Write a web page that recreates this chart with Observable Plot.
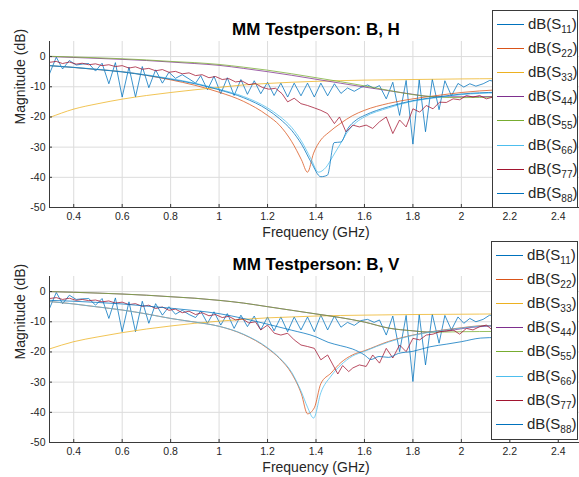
<!DOCTYPE html>
<html>
<head>
<meta charset="utf-8">
<script src="https://cdn.jsdelivr.net/npm/d3@7"></script>
<script src="https://cdn.jsdelivr.net/npm/@observablehq/plot@0.6"></script>
<style>
  body { margin: 0; background: #fff; font-family: "Liberation Sans", Arial, Helvetica, sans-serif; }
  #fig { position: relative; width: 579px; height: 477px; overflow: hidden; background: #fff; }
  .panel { position: absolute; left: 0; max-width: none !important; }
  .legend { position: absolute; background: #fff; border: 1px solid #3a3a3a; box-sizing: border-box; }
  .swatch { position: absolute; left: 4px; width: 27px; height: 1px; }
  .lab { position: absolute; left: 35px; font-size: 15px; line-height: 15px; white-space: nowrap; color: #262626; }
  .lab span { font-size: 10px; position: relative; top: 4px; }
</style>
</head>
<body>
<div id="fig"></div>
<script>
// Port labels and trace colours (S11 … S88)
const ports = ["11", "22", "33", "44", "55", "66", "77", "88"];
const traceColors = ["#0072BD", "#D95319", "#EDB120", "#7E2F8E", "#77AC30", "#4DBEEE", "#A2142F", "#0072BD"];

const xTicks = [0.4, 0.6, 0.8, 1.0, 1.2, 1.4, 1.6, 1.8, 2.0, 2.2, 2.4];
const yTicks = [0, -10, -20, -30, -40, -50];

// ---- Panel 1: B, H  — [frequency GHz, magnitude dB]
const hS11 = [[0.300,-5.7],[0.328,-0.2],[0.354,-4.1],[0.382,-1.3],[0.410,-2.8],[0.435,-2.5],[0.462,-2.3],[0.490,-4.8],[0.517,-2.2],[0.545,-9.0],[0.572,-2.0],[0.600,-13.4],[0.628,-3.5],[0.655,-13.4],[0.683,-3.3],[0.710,-10.3],[0.738,-4.4],[0.766,-8.8],[0.793,-5.2],[0.820,-7.2],[0.848,-6.0],[0.876,-7.4],[0.903,-8.8],[0.924,-6.3],[0.952,-11.0],[0.979,-6.5],[1.007,-12.3],[1.034,-7.0],[1.062,-12.9],[1.090,-7.6],[1.117,-12.5],[1.145,-8.0],[1.172,-12.3],[1.200,-8.5],[1.227,-12.9],[1.255,-8.8],[1.283,-13.4],[1.310,-8.8],[1.338,-13.0],[1.365,-8.8],[1.393,-13.4],[1.420,-8.8],[1.448,-13.0],[1.476,-9.0],[1.503,-12.2],[1.530,-10.4],[1.558,-11.5],[1.586,-10.2],[1.613,-9.4],[1.640,-10.5],[1.662,-9.6],[1.690,-14.0],[1.717,-8.5],[1.745,-19.5],[1.772,-7.9],[1.800,-29.0],[1.826,-7.7],[1.852,-24.9],[1.880,-7.5],[1.908,-17.6],[1.932,-8.0],[1.959,-13.0],[1.986,-8.9],[2.010,-10.1],[2.035,-9.0],[2.060,-9.8],[2.090,-9.0],[2.117,-7.9],[2.145,-8.4]];
const hS22 = [[0.30,-3.0],[0.40,-3.6],[0.50,-4.3],[0.60,-5.0],[0.70,-6.2],[0.80,-7.7],[0.90,-9.5],[1.00,-11.8],[1.10,-14.8],[1.20,-19.5],[1.25,-22.8],[1.30,-28.2],[1.34,-34.2],[1.365,-38.3],[1.39,-32.0],[1.42,-27.6],[1.45,-25.3],[1.50,-22.2],[1.55,-19.6],[1.60,-17.8],[1.70,-15.5],[1.80,-14.0],[1.90,-12.9],[2.00,-11.9],[2.15,-11.0]];
const hS33 = [[0.30,-20.2],[0.40,-17.4],[0.50,-15.6],[0.60,-14.1],[0.70,-12.9],[0.80,-11.9],[0.90,-11.0],[1.00,-10.2],[1.10,-9.4],[1.20,-8.9],[1.30,-8.5],[1.40,-8.2],[1.60,-7.8],[1.80,-7.6],[2.00,-7.4],[2.15,-7.3]];
const hS44 = [[0.30,0.0],[0.50,-0.6],[0.70,-1.3],[0.80,-1.8],[0.90,-2.3],[1.00,-2.9],[1.10,-3.9],[1.20,-5.0],[1.30,-6.2],[1.40,-7.5],[1.50,-8.8],[1.60,-10.1],[1.70,-11.3],[1.80,-12.5],[1.85,-13.1],[1.90,-13.3],[2.00,-13.3],[2.15,-13.2]];
const hS55 = [[0.30,0.1],[0.50,-0.4],[0.70,-1.1],[0.80,-1.6],[0.90,-2.0],[1.00,-2.6],[1.10,-3.5],[1.20,-4.5],[1.30,-5.7],[1.40,-7.0],[1.50,-8.3],[1.60,-9.7],[1.70,-11.2],[1.80,-12.6],[1.90,-13.4],[2.00,-13.6],[2.15,-13.4]];
const hS66 = [[0.30,-3.0],[0.50,-4.2],[0.60,-5.0],[0.80,-7.3],[0.90,-8.8],[1.00,-10.8],[1.10,-13.2],[1.20,-17.0],[1.25,-19.8],[1.30,-23.5],[1.34,-28.0],[1.38,-34.0],[1.41,-38.3],[1.44,-36.8],[1.47,-33.0],[1.50,-29.0],[1.53,-25.0],[1.566,-21.8],[1.60,-20.0],[1.70,-17.0],[1.80,-14.8],[1.90,-13.6],[2.00,-12.6],[2.15,-12.0]];
const hS77 = [[0.300,-1.9],[0.328,-1.6],[0.354,-2.3],[0.382,-1.8],[0.410,-2.5],[0.435,-2.2],[0.462,-2.7],[0.490,-2.4],[0.517,-3.0],[0.545,-2.7],[0.572,-3.3],[0.600,-3.0],[0.628,-3.8],[0.655,-3.4],[0.683,-4.2],[0.710,-3.9],[0.738,-4.7],[0.766,-4.3],[0.793,-5.2],[0.820,-4.9],[0.848,-5.7],[0.876,-5.4],[0.903,-6.3],[0.930,-6.0],[0.958,-7.0],[0.985,-6.6],[1.013,-7.6],[1.040,-7.3],[1.068,-8.4],[1.095,-8.1],[1.123,-9.3],[1.150,-8.9],[1.178,-10.2],[1.205,-10.8],[1.233,-10.5],[1.260,-12.3],[1.283,-15.0],[1.310,-13.8],[1.338,-15.6],[1.365,-16.2],[1.393,-17.0],[1.420,-17.8],[1.448,-18.9],[1.476,-22.2],[1.497,-20.0],[1.524,-25.0],[1.552,-22.7],[1.579,-23.3],[1.607,-22.7],[1.634,-23.8],[1.662,-21.6],[1.690,-20.0],[1.717,-25.5],[1.745,-21.0],[1.772,-23.3],[1.800,-17.3],[1.828,-18.4],[1.855,-16.2],[1.883,-17.3],[1.910,-15.1],[1.938,-15.2],[1.966,-14.0],[1.993,-14.3],[2.021,-12.9],[2.048,-13.4],[2.076,-12.9],[2.103,-14.0],[2.131,-13.4]];
const hS88 = [[0.30,-3.0],[0.40,-3.6],[0.50,-4.3],[0.60,-5.1],[0.70,-6.2],[0.80,-7.5],[0.90,-9.0],[1.00,-11.0],[1.10,-13.6],[1.20,-17.6],[1.25,-20.6],[1.30,-24.5],[1.34,-29.0],[1.38,-35.0],[1.42,-39.8],[1.447,-39.3],[1.475,-28.5],[1.503,-28.3],[1.53,-24.0],[1.566,-21.0],[1.60,-19.5],[1.70,-16.6],[1.80,-14.6],[1.90,-13.4],[2.00,-12.4],[2.15,-11.8]];

// ---- Panel 2: B, V
const vS11 = [[0.300,-5.6],[0.328,-0.3],[0.354,-4.0],[0.382,-1.2],[0.410,-2.6],[0.435,-2.4],[0.462,-2.3],[0.490,-4.5],[0.517,-2.3],[0.545,-8.9],[0.572,-2.1],[0.600,-13.3],[0.628,-3.4],[0.655,-13.3],[0.683,-3.2],[0.710,-10.5],[0.738,-4.0],[0.766,-7.8],[0.793,-5.0],[0.820,-7.5],[0.848,-6.2],[0.876,-7.6],[0.903,-8.6],[0.924,-6.4],[0.952,-10.5],[0.979,-6.7],[1.007,-11.1],[1.034,-7.3],[1.062,-12.2],[1.090,-7.8],[1.117,-11.6],[1.145,-8.1],[1.172,-12.7],[1.200,-8.4],[1.227,-13.0],[1.255,-8.4],[1.283,-13.3],[1.310,-8.4],[1.338,-12.7],[1.365,-8.4],[1.393,-13.3],[1.420,-7.8],[1.448,-12.7],[1.476,-8.1],[1.503,-11.8],[1.530,-10.2],[1.558,-11.2],[1.586,-9.6],[1.613,-9.2],[1.640,-10.2],[1.662,-9.4],[1.690,-14.4],[1.717,-8.1],[1.745,-19.9],[1.772,-7.9],[1.800,-29.8],[1.826,-7.6],[1.852,-24.3],[1.880,-7.5],[1.908,-17.1],[1.932,-7.9],[1.959,-12.7],[1.986,-8.4],[2.010,-10.5],[2.035,-8.9],[2.060,-10.0],[2.090,-9.2],[2.117,-7.8],[2.145,-8.2]];
const vS22 = [[0.30,-3.3],[0.40,-4.1],[0.50,-5.1],[0.60,-6.1],[0.70,-7.4],[0.80,-8.9],[0.90,-10.1],[1.00,-11.5],[1.10,-14.2],[1.20,-18.8],[1.25,-22.2],[1.30,-27.2],[1.34,-34.0],[1.365,-40.5],[1.393,-38.5],[1.42,-30.5],[1.462,-27.0],[1.503,-23.5],[1.55,-21.0],[1.60,-19.6],[1.70,-16.5],[1.80,-14.4],[1.90,-13.0],[2.00,-12.0],[2.08,-11.3],[2.15,-11.2]];
const vS33 = [[0.30,-19.0],[0.40,-16.6],[0.50,-15.0],[0.60,-13.6],[0.70,-12.4],[0.80,-11.4],[0.90,-10.5],[1.00,-9.8],[1.10,-9.2],[1.20,-8.7],[1.30,-8.4],[1.40,-8.1],[1.60,-7.8],[1.80,-7.6],[2.00,-7.5],[2.15,-7.4]];
const vS44 = [[0.30,0.0],[0.50,-0.5],[0.70,-1.2],[0.80,-1.7],[0.90,-2.2],[1.00,-2.9],[1.10,-3.8],[1.20,-5.0],[1.30,-6.2],[1.40,-7.4],[1.50,-8.6],[1.60,-10.1],[1.70,-12.1],[1.80,-13.0],[1.86,-13.4],[1.93,-13.2],[2.00,-12.3],[2.08,-11.6],[2.15,-11.4]];
const vS55 = [[0.30,0.0],[0.50,-0.5],[0.70,-1.2],[0.80,-1.7],[0.90,-2.2],[1.00,-2.9],[1.10,-3.8],[1.20,-5.0],[1.30,-6.2],[1.40,-7.4],[1.50,-8.6],[1.60,-10.1],[1.70,-12.1],[1.80,-13.0],[1.86,-13.4],[1.93,-13.4],[2.00,-13.3],[2.15,-13.2]];
const vS66 = [[0.30,-3.3],[0.40,-4.1],[0.50,-5.1],[0.60,-6.1],[0.70,-7.4],[0.80,-8.9],[0.90,-10.1],[1.00,-11.5],[1.10,-14.1],[1.20,-18.6],[1.25,-22.0],[1.30,-26.8],[1.34,-33.3],[1.365,-38.3],[1.39,-41.9],[1.42,-33.5],[1.462,-28.0],[1.503,-24.3],[1.55,-21.4],[1.60,-19.8],[1.70,-16.7],[1.80,-14.5],[1.90,-13.1],[2.00,-12.1],[2.08,-11.4],[2.15,-11.3]];
const vS77 = [[0.300,-2.3],[0.328,-2.0],[0.354,-2.6],[0.382,-2.2],[0.410,-2.9],[0.435,-2.6],[0.462,-3.0],[0.490,-2.8],[0.517,-3.4],[0.545,-3.1],[0.572,-3.8],[0.600,-3.5],[0.628,-4.3],[0.655,-4.0],[0.683,-4.9],[0.710,-4.5],[0.738,-5.6],[0.766,-5.1],[0.793,-6.2],[0.820,-5.8],[0.848,-7.0],[0.876,-6.5],[0.903,-7.6],[0.930,-7.0],[0.958,-8.0],[0.985,-7.6],[1.013,-8.6],[1.040,-8.2],[1.068,-9.4],[1.095,-9.0],[1.123,-10.4],[1.150,-10.0],[1.172,-12.7],[1.200,-11.1],[1.228,-13.8],[1.255,-14.4],[1.283,-13.8],[1.310,-16.0],[1.338,-17.7],[1.365,-18.2],[1.393,-18.8],[1.420,-22.6],[1.448,-21.0],[1.490,-27.3],[1.510,-24.5],[1.535,-26.5],[1.552,-25.3],[1.579,-24.3],[1.607,-24.8],[1.634,-21.0],[1.662,-23.7],[1.690,-18.8],[1.717,-22.0],[1.745,-17.7],[1.772,-19.9],[1.800,-15.5],[1.828,-16.0],[1.855,-14.4],[1.883,-14.1],[1.910,-13.3],[1.938,-13.0],[1.966,-12.7],[1.993,-14.1],[2.021,-12.2],[2.048,-12.7],[2.076,-11.6],[2.103,-11.1],[2.131,-12.9]];
const vS88 = [[0.30,-2.9],[0.40,-3.2],[0.50,-3.6],[0.60,-4.1],[0.70,-4.8],[0.80,-5.5],[0.90,-6.3],[1.00,-7.3],[1.10,-8.9],[1.20,-10.8],[1.30,-12.8],[1.40,-15.0],[1.45,-16.8],[1.50,-17.9],[1.55,-19.0],[1.60,-21.0],[1.627,-22.5],[1.66,-21.5],[1.70,-21.8],[1.74,-20.5],[1.80,-19.8],[1.87,-18.3],[1.94,-17.4],[2.00,-16.6],[2.08,-15.4],[2.15,-15.2]];

const panels = [
  { title: "MM Testperson: B, H", top: 0, traces: [hS11, hS22, hS33, hS44, hS55, hS66, hS77, hS88],
    legend: { left: 492, top: 10, height: 198 } },
  { title: "MM Testperson: B, V", top: 235, traces: [vS11, vS22, vS33, vS44, vS55, vS66, vS77, vS88],
    legend: { left: 491, top: 241, height: 199 } }
];

// ragged traces are drawn point to point, the smooth ones with a monotone curve
const ragged = new Set([0, 6]);
const axisColor = "#3a3a3a";
const fig = document.getElementById("fig");

for (const p of panels) {
  const lines = p.traces.map((t, i) => Plot.line(t, {
    x: d => d[0], y: d => d[1],
    stroke: traceColors[i], strokeWidth: 0.9, strokeOpacity: 0.85,
    curve: ragged.has(i) ? "linear" : "monotone-x"
  }));

  const chart = Plot.plot({
    width: 600, height: 240,
    marginTop: 41, marginBottom: 33, marginLeft: 49, marginRight: 18,
    x: { domain: [0.3, 2.5], axis: null },
    y: { domain: [-50, 5], axis: null },
    style: { fontFamily: "'Liberation Sans', Arial, Helvetica, sans-serif", color: "#262626", background: "transparent", overflow: "visible", maxWidth: "none" },
    marks: [
      Plot.gridX(xTicks, { stroke: "#dcdcdc", strokeOpacity: 1 }),
      Plot.gridY(yTicks, { stroke: "#dcdcdc", strokeOpacity: 1 }),
      ...lines,
      Plot.ruleX([0.3], { stroke: axisColor }),
      Plot.ruleY([-50], { stroke: axisColor }),
      Plot.ruleX(xTicks, { y1: -50, y2: -49, stroke: axisColor }),
      Plot.ruleY(yTicks, { x1: 0.3, x2: 0.3124, stroke: axisColor }),
      Plot.axisX(xTicks, { tickSize: 0, tickPadding: 5, fontSize: 10.5, label: null,
        tickFormat: d => String(+d.toFixed(1)) }),
      Plot.axisY(yTicks, { tickSize: 0, tickPadding: 4, fontSize: 10.5, label: null,
        tickFormat: d => String(d) }),
      Plot.text([p.title], { frameAnchor: "top", dy: -12, lineAnchor: "middle", fontSize: 17, fontWeight: "bold", fill: "#000" }),
      Plot.text(["Frequency (GHz)"], { frameAnchor: "bottom", dy: 25, lineAnchor: "middle", fontSize: 14 }),
      Plot.text(["Magnitude (dB)"], { frameAnchor: "left", dx: -29, rotate: -90, lineAnchor: "middle", fontSize: 14 })
    ]
  });
  chart.classList.add("panel");
  chart.style.top = p.top + "px";
  chart.style.maxWidth = "none";
  chart.style.width = "600px";
  chart.style.height = "240px";
  fig.appendChild(chart);

  // legend box drawn over the right end of the axes
  const lg = document.createElement("div");
  lg.className = "legend";
  lg.style.left = p.legend.left + "px";
  lg.style.top = p.legend.top + "px";
  lg.style.width = (578 - p.legend.left) + "px";
  lg.style.height = p.legend.height + "px";
  ports.forEach((port, i) => {
    const cy = Math.round(13 + i * 24.1);
    const sw = document.createElement("div");
    sw.className = "swatch";
    sw.style.top = cy + "px";
    sw.style.background = traceColors[i];
    const lab = document.createElement("div");
    lab.className = "lab";
    lab.style.top = (cy - 8) + "px";
    lab.innerHTML = `dB(S<span>${port}</span>)`;
    lg.appendChild(sw);
    lg.appendChild(lab);
  });
  fig.appendChild(lg);
}
</script>
</body>
</html>
